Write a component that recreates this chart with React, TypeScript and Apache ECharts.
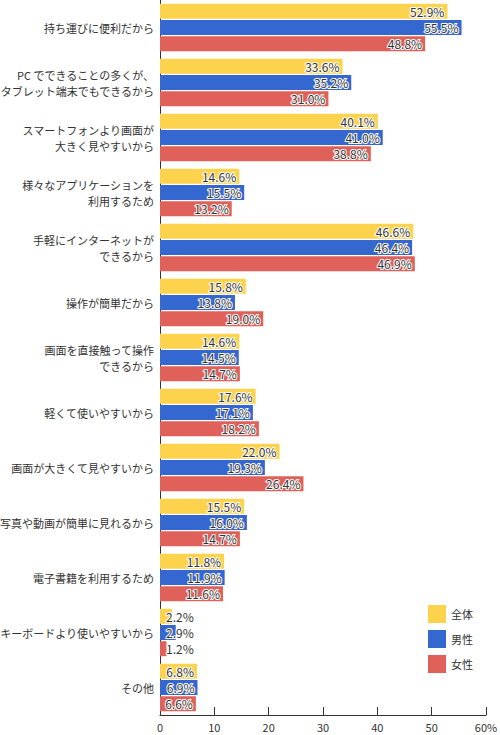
import React, { useEffect, useRef } from "react";
import * as echarts from "echarts";

const categories = [
  "持ち運びに便利だから",
  "PC でできることの多くが、\nタブレット端末でもできるから",
  "スマートフォンより画面が\n大きく見やすいから",
  "様々なアプリケーションを\n利用するため",
  "手軽にインターネットが\nできるから",
  "操作が簡単だから",
  "画面を直接触って操作\nできるから",
  "軽くて使いやすいから",
  "画面が大きくて見やすいから",
  "写真や動画が簡単に見れるから",
  "電子書籍を利用するため",
  "キーボードより使いやすいから",
  "その他",
];

const seriesNames = ["全体", "男性", "女性"];
const totalValues = [52.9, 33.6, 40.1, 14.6, 46.6, 15.8, 14.6, 17.6, 22.0, 15.5, 11.8, 2.2, 6.8];
const maleValues = [55.5, 35.2, 41.0, 15.5, 46.4, 13.8, 14.5, 17.1, 19.3, 16.0, 11.9, 2.9, 6.9];
const femaleValues = [48.8, 31.0, 38.8, 13.2, 46.9, 19.0, 14.7, 18.2, 26.4, 14.7, 11.6, 1.2, 6.6];
const colors = ["#FDD34E", "#3468D0", "#E0605A"];

const FONT = "'Noto Sans CJK JP', 'Noto Sans', sans-serif";

export default function App() {
  const ref = useRef<HTMLDivElement>(null);
  useEffect(() => {
    if (!ref.current) return;
    const chart = echarts.init(ref.current, undefined, { renderer: "svg" });
    const all = [totalValues, maleValues, femaleValues];
    const mkData = (vals: number[]) =>
      vals.map((v) => ({
        value: v,
        label: v < 5 ? { position: "insideLeft", distance: 6 } : undefined,
      }));
    chart.setOption({
      animation: false,
      textStyle: { fontFamily: FONT },
      legend: {
        orient: "vertical",
        left: 423,
        top: 600,
        itemWidth: 18,
        itemHeight: 18,
        itemGap: 7,
        icon: "rect",
        textStyle: { fontSize: 11, color: "#333", fontFamily: FONT },
        data: seriesNames,
      },
      grid: {
        left: 160,
        top: 0,
        width: 326,
        height: 715,
        containLabel: false,
        outerBoundsMode: "none",
      },
      xAxis: {
        type: "value",
        min: 0,
        max: 60,
        interval: 10,
        axisLine: { show: true, lineStyle: { color: "#333", width: 1 } },
        axisTick: { show: true, inside: true, length: 8, lineStyle: { color: "#333" } },
        splitLine: { show: false },
        axisLabel: {
          color: "#333",
          fontSize: 11,
          margin: 6,
          fontFamily: FONT,
          formatter: (v: number) => (v === 60 ? v + "%" : String(v)),
        },
      },
      yAxis: {
        type: "category",
        inverse: true,
        data: categories,
        axisLine: { show: true, lineStyle: { color: "#333", width: 1 } },
        axisTick: { show: false },
        axisLabel: {
          color: "#333",
          fontSize: 11,
          margin: 6,
          lineHeight: 16,
          fontFamily: FONT,
        },
      },
      series: seriesNames.map((name, i) => ({
        name,
        type: "bar",
        data: mkData(all[i]),
        barWidth: 15,
        barGap: "8%",
        itemStyle: { color: colors[i] },
        label: {
          show: true,
          position: "insideRight",
          distance: 3,
          formatter: (p: any) => p.value.toFixed(1) + "%",
          color: "#333",
          fontSize: 12,
          fontFamily: FONT,
          textBorderColor: "#fff",
          textBorderWidth: 2,
        },
      })),
    });
    return () => chart.dispose();
  }, []);
  return (
    <div
      ref={ref}
      style={{ position: "fixed", left: 0, top: 0, width: 500, height: 735, background: "#fff" }}
    />
  );
}
